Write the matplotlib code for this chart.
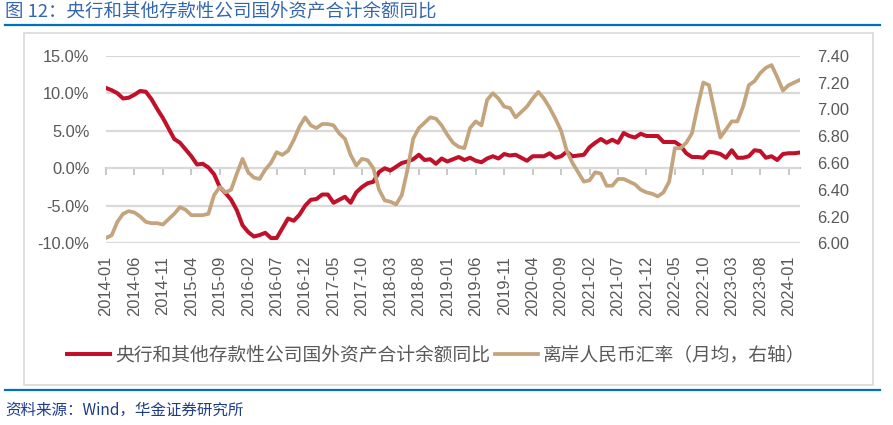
import matplotlib
matplotlib.use("Agg")
import matplotlib.pyplot as plt
from matplotlib.lines import Line2D
from matplotlib.patches import Rectangle
import pandas as pd

plt.rcParams['font.family'] = ['Noto Sans CJK SC', 'DejaVu Sans']

months = [d.strftime('%Y-%m') for d in pd.date_range('2014-01-01', '2024-03-01', freq='MS')]

fa_yoy = [10.7, 10.4, 10.0, 9.3, 9.4, 9.8, 10.3, 10.2, 9.2, 7.9,
          6.7, 5.3, 3.9, 3.4, 2.5, 1.6, 0.5, 0.6, 0.1, -0.8,
          -2.5, -3.3, -4.2, -5.6, -7.6, -8.5, -9.1, -8.9, -8.6, -9.3,
          -9.3, -8.0, -6.7, -7.0, -6.2, -5.0, -4.2, -4.1, -3.5, -3.5,
          -4.6, -4.2, -3.8, -4.6, -3.2, -2.5, -2.0, -1.8, -0.5, 0.0,
          -0.3, 0.2, 0.7, 0.9, 1.2, 1.8, 1.1, 1.2, 0.6, 1.3,
          0.9, 1.2, 1.5, 1.1, 1.4, 1.0, 0.8, 1.3, 1.6, 1.3,
          1.9, 1.7, 1.8, 1.4, 1.0, 1.6, 1.6, 1.6, 2.0, 1.4,
          1.6, 2.2, 1.6, 1.7, 1.8, 2.8, 3.4, 3.9, 3.4, 3.8,
          3.4, 4.7, 4.3, 4.1, 4.6, 4.3, 4.3, 4.3, 3.5, 3.5,
          3.5, 3.0, 2.0, 1.5, 1.5, 1.4, 2.2, 2.1, 1.9, 1.4,
          2.4, 1.4, 1.4, 1.6, 2.4, 2.3, 1.4, 1.6, 1.1, 1.9,
          2.0, 2.0, 2.1]

cnh = [6.04, 6.06, 6.16, 6.22, 6.24, 6.23, 6.20, 6.16, 6.15, 6.15,
       6.14, 6.18, 6.22, 6.27, 6.25, 6.21, 6.21, 6.21, 6.22, 6.36,
       6.42, 6.38, 6.40, 6.52, 6.63, 6.53, 6.49, 6.48, 6.55, 6.60,
       6.68, 6.66, 6.69, 6.77, 6.87, 6.94, 6.88, 6.86, 6.89, 6.89,
       6.88, 6.82, 6.78, 6.66, 6.58, 6.63, 6.62, 6.56, 6.40, 6.32,
       6.31, 6.29, 6.36, 6.55, 6.78, 6.86, 6.90, 6.94, 6.93, 6.88,
       6.81, 6.75, 6.72, 6.71, 6.86, 6.91, 6.88, 7.07, 7.12, 7.08,
       7.02, 7.01, 6.94, 6.98, 7.02, 7.08, 7.13, 7.08, 7.01, 6.93,
       6.84, 6.69, 6.60, 6.53, 6.46, 6.47, 6.53, 6.52, 6.43, 6.43,
       6.48, 6.48, 6.46, 6.44, 6.40, 6.38, 6.37, 6.35, 6.38, 6.46,
       6.71, 6.71, 6.75, 6.82, 7.02, 7.20, 7.18, 6.98, 6.79, 6.85,
       6.91, 6.91, 7.02, 7.18, 7.21, 7.27, 7.31, 7.33, 7.24, 7.14,
       7.18, 7.20, 7.22]

left_ticks = [-10, -5, 0, 5, 10, 15]
right_ticks = [6.0, 6.2, 6.4, 6.6, 6.8, 7.0, 7.2, 7.4]
label_step = 5

title = '图 12：央行和其他存款性公司国外资产合计余额同比'
name1 = '央行和其他存款性公司国外资产合计余额同比'
name2 = '离岸人民币汇率（月均，右轴）'
source = '资料来源：Wind，华金证券研究所'

RED = '#c0102a'
TAN = '#c4a47c'
GREY_TXT = '#595959'
GRID = '#d9d9d9'
BLUE = '#0070c0'

W, H = 893, 425
fig = plt.figure(figsize=(W / 100, H / 100), dpi=100)

def fx(px):
    return px / W

def fy(py):
    return 1 - py / H

# outer chart box
fig.add_artist(Rectangle((fx(24), fy(385)), fx(873) - fx(24), fy(33) - fy(385),
                         transform=fig.transFigure, fill=False, edgecolor=GRID, lw=1.2))
# blue rules
fig.add_artist(Line2D([fx(5), fx(880)], [fy(25), fy(25)], transform=fig.transFigure, color=BLUE, lw=1.6))
fig.add_artist(Line2D([fx(5), fx(880)], [fy(390), fy(390)], transform=fig.transFigure, color=BLUE, lw=1.6))

fig.text(fx(5), fy(12), title, color='#3466b0', fontsize=13.3, va='center', ha='left')
fig.text(fx(5), fy(410), source, color='#1f3c88', fontsize=11.2, va='center', ha='left', style='italic')

ax = fig.add_axes([fx(106), fy(243.3), fx(800) - fx(106), fy(55.7) - fy(243.3)])
x = list(range(len(months)))
ax.plot(x, fa_yoy, color=RED, lw=2.9, solid_joinstyle='round', zorder=3, label=name1)
ax.set_xlim(0, len(months) - 1)
ax.set_ylim(left_ticks[0], left_ticks[-1])
ax.set_yticks(left_ticks)
ax.set_yticklabels([f'{v:.1f}%' for v in left_ticks], fontfamily='Liberation Sans', fontsize=11.8, color=GREY_TXT)
ax.yaxis.grid(True, color=GRID, lw=1.6)
ax.set_axisbelow(True)
for s in ax.spines.values():
    s.set_visible(False)
ax.tick_params(axis='y', length=0, pad=12)
xt = x[::label_step]
ax.set_xticks(xt)
ax.set_xticklabels([months[i] for i in xt], rotation=90, fontfamily='Liberation Sans', fontsize=11.8, color=GREY_TXT)
ax.tick_params(axis='x', length=0, pad=9)

# zero-line category axis with ticks
zero_frac = (0 - left_ticks[0]) / (left_ticks[-1] - left_ticks[0])
sec = ax.secondary_xaxis(zero_frac)
sec.set_xticks(xt)
sec.tick_params(axis='x', direction='out', length=5, width=1.2, color='#bfbfbf', labelbottom=False, labeltop=False)
sec.spines['bottom'].set_color('#bfbfbf')
sec.spines['bottom'].set_linewidth(1.4)

ax2 = ax.twinx()
ax2.plot(x, cnh, color=TAN, lw=2.7, solid_joinstyle='round', label=name2)
ax2.set_ylim(right_ticks[0], right_ticks[-1])
ax2.set_yticks(right_ticks)
ax2.set_yticklabels([f'{v:.2f}' for v in right_ticks], fontfamily='Liberation Sans', fontsize=11.8, color=GREY_TXT)
ax2.tick_params(axis='y', length=0, pad=12)
for s in ax2.spines.values():
    s.set_visible(False)

h1 = ax.get_lines()[0]
h2 = ax2.get_lines()[0]
fig.legend([h1, h2], [name1, name2], loc='center', bbox_to_anchor=(fx(436), fy(355)),
           ncol=2, frameon=False, fontsize=13.5, handlelength=2.3, handletextpad=0.25,
           columnspacing=0.25, labelcolor=GREY_TXT)

fig.savefig('out.png', dpi=100)
